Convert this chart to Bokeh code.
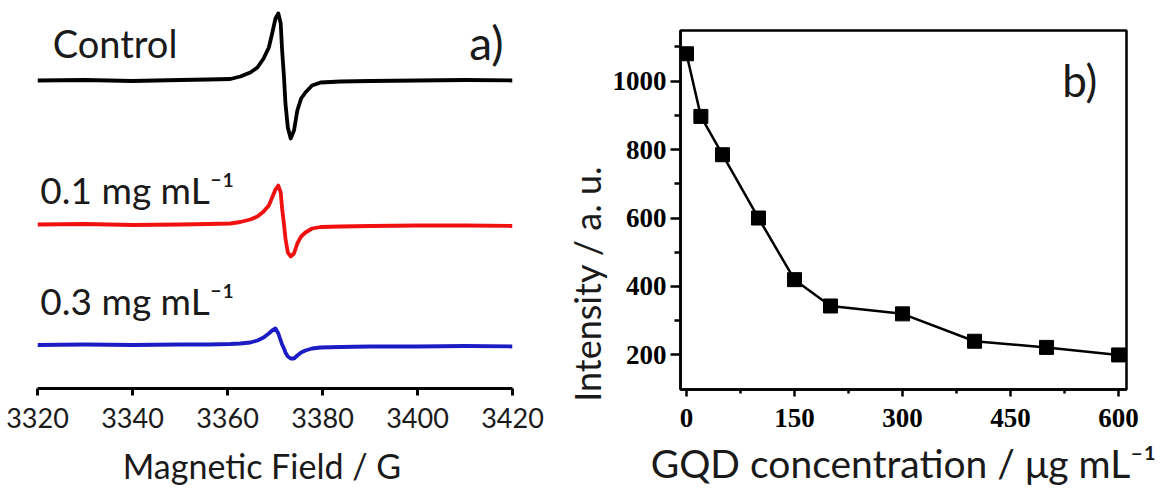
from bokeh.plotting import figure
from bokeh.layouts import row
from bokeh.models import Label, FixedTicker, Range1d, ColumnDataSource
from bokeh.embed import file_html
from bokeh.resources import INLINE

# ---------------- data: panel a) EPR spectra ----------------
field_G = [3320, 3330, 3340, 3350, 3356, 3360.6, 3362.7, 3364.8, 3366.3, 3367.6,
           3368.7, 3369.4, 3370.1, 3370.7, 3371.2, 3371.5, 3371.9, 3372.2, 3372.7,
           3373.3, 3374.0, 3374.7, 3375.5, 3376.4, 3377.8, 3379.6, 3383.8, 3390,
           3400, 3410, 3420]
signal_control = [0, 0.5, -0.5, 0.5, 1, 1.5, 4, 8, 13, 22, 33, 47, 62, 67, 57, 30, 3,
                  -23, -47, -58, -50, -30, -18, -12, -5, -2, -1, -0.5, 0, 0.5, 0]
signal_01 = [1, 1.5, 0.5, 1, 1.5, 2, 3.5, 6, 9, 14, 20, 28, 36, 40, 33, 17, 1,
             -13, -27, -31, -28, -18, -11, -7, -3, -1.5, -1, -0.5, 0, 0, -0.5]
signal_03 = [1.5, 2, 1.5, 2, 2, 2.5, 3, 4, 6, 9, 13, 16, 18, 13, 6, 2, -2,
             -6, -10, -12, -12, -9, -6, -4, -2, -1, -0.5, 0, 0, 0.5, 0]
trace_names = ["Control", "0.1 mg mL\u207b\u00b9", "0.3 mg mL\u207b\u00b9"]
field_ticks = [3320, 3340, 3360, 3380, 3400, 3420]

# ---------------- data: panel b) intensity vs concentration ----------------
conc_ug_mL = [0, 20, 50, 100, 150, 200, 300, 400, 500, 600]
intensity_au = [1080, 897, 785, 600, 420, 343, 320, 240, 222, 200]
conc_ticks = [0, 150, 300, 450, 600]
conc_minor = [75, 225, 375, 525]
int_ticks = [200, 400, 600, 800, 1000]
int_minor = [300, 500, 700, 900, 1100]

# ---------------- layout / style ----------------
offsets = [308, 163, 42]           # vertical stacking of the spectra
colors = ["#000000", "#f01010", "#1c1cc4"]
SANS = "Lato"
TXT = "#1a1a1a"
NB = "\u00a0"

p1 = figure(width=560, height=488, x_range=Range1d(3320, 3420), y_range=Range1d(0, 380),
            output_backend="svg", toolbar_location=None, y_axis_location=None, title=None,
            frame_align=False,
            min_border_left=37, min_border_right=48, min_border_top=8, min_border_bottom=100)
p1.outline_line_color = None
p1.xgrid.visible = False
p1.ygrid.visible = False
p1.background_fill_color = "white"
p1.border_fill_color = "white"

for sig, off, col in zip([signal_control, signal_01, signal_03], offsets, colors):
    p1.line(field_G, [v + off for v in sig], line_color=col, line_width=3.8,
            line_join="round")

ax = p1.xaxis[0]
ax.ticker = FixedTicker(ticks=field_ticks, minor_ticks=[])
ax.axis_line_width = 3
ax.axis_line_color = "black"
ax.major_tick_line_width = 3
ax.major_tick_out = 7
ax.major_tick_in = 0
ax.minor_tick_out = 0
ax.minor_tick_in = 0
ax.major_label_text_font = SANS
ax.major_label_text_font_size = "27px"
ax.major_label_text_color = TXT
ax.major_label_standoff = 12
ax.axis_label = "Magnetic Field / G" + NB * 3
ax.axis_label_text_font = SANS
ax.axis_label_text_font_size = "34px"
ax.axis_label_text_font_style = "normal"
ax.axis_label_text_color = TXT
ax.axis_label_standoff = 14

label_pos = [(3323.2, 346), (3320.6, 199), (3320.6, 88)]
label_size = ["38px", "37px", "37px"]
for name, (lx, ly), fs in zip(trace_names, label_pos, label_size):
    p1.add_layout(Label(x=lx, y=ly, text=name, text_font=SANS, text_font_size=fs,
                        text_color=TXT, text_align="left", text_baseline="middle"))
p1.add_layout(Label(x=3414.5, y=346, text="a)", text_font=SANS, text_font_size="46px",
                    text_color=TXT, text_align="center", text_baseline="middle"))

# ---------------- panel b) ----------------
p2 = figure(width=603, height=488, x_range=Range1d(-8.3, 611), y_range=Range1d(99, 1148),
            output_backend="svg", toolbar_location=None, title=None, frame_align=False,
            min_border_left=120, min_border_right=37, min_border_top=30, min_border_bottom=96)
p2.xgrid.visible = False
p2.ygrid.visible = False
p2.outline_line_color = "black"
p2.outline_line_width = 2.5
p2.background_fill_color = "white"
p2.border_fill_color = "white"

src = ColumnDataSource(dict(x=conc_ug_mL, y=intensity_au))
p2.line("x", "y", source=src, line_color="black", line_width=2.5)
p2.scatter("x", "y", source=src, marker="square", size=14, fill_color="black",
           line_color="black")

for axis, tk, mn in [(p2.xaxis[0], conc_ticks, conc_minor), (p2.yaxis[0], int_ticks, int_minor)]:
    axis.ticker = FixedTicker(ticks=tk, minor_ticks=mn)
    axis.axis_line_width = 2.5
    axis.major_tick_line_width = 2.5
    axis.minor_tick_line_width = 2.5
    axis.major_tick_in = 0
    axis.minor_tick_in = 0
    axis.major_label_text_font = "Liberation Serif"
    axis.major_label_text_font_style = "bold"
    axis.major_label_text_font_size = "27px"
    axis.major_label_text_color = "black"
    axis.axis_label_text_font = SANS
    axis.axis_label_text_font_style = "normal"
    axis.axis_label_text_color = TXT
p2.xaxis[0].major_tick_out = 7
p2.xaxis[0].minor_tick_out = 4
p2.xaxis[0].major_label_standoff = 12
p2.xaxis[0].axis_label = "GQD concentration / \u03bcg mL\u207b\u00b9"
p2.xaxis[0].axis_label_text_font_size = "39px"
p2.xaxis[0].axis_label_standoff = 10
p2.yaxis[0].major_tick_out = 10
p2.yaxis[0].minor_tick_out = 6
p2.yaxis[0].major_label_standoff = 4
p2.yaxis[0].axis_label = "Intensity / a. u." + NB * 16
p2.yaxis[0].axis_label_text_font_size = "36px"
p2.yaxis[0].axis_label_standoff = 1

p2.add_layout(Label(x=546, y=1003, text="b)", text_font=SANS, text_font_size="44px",
                    text_color=TXT, text_align="center", text_baseline="middle"))

layout = row(p1, p2)
open("out.html", "w").write(file_html(layout, INLINE))
